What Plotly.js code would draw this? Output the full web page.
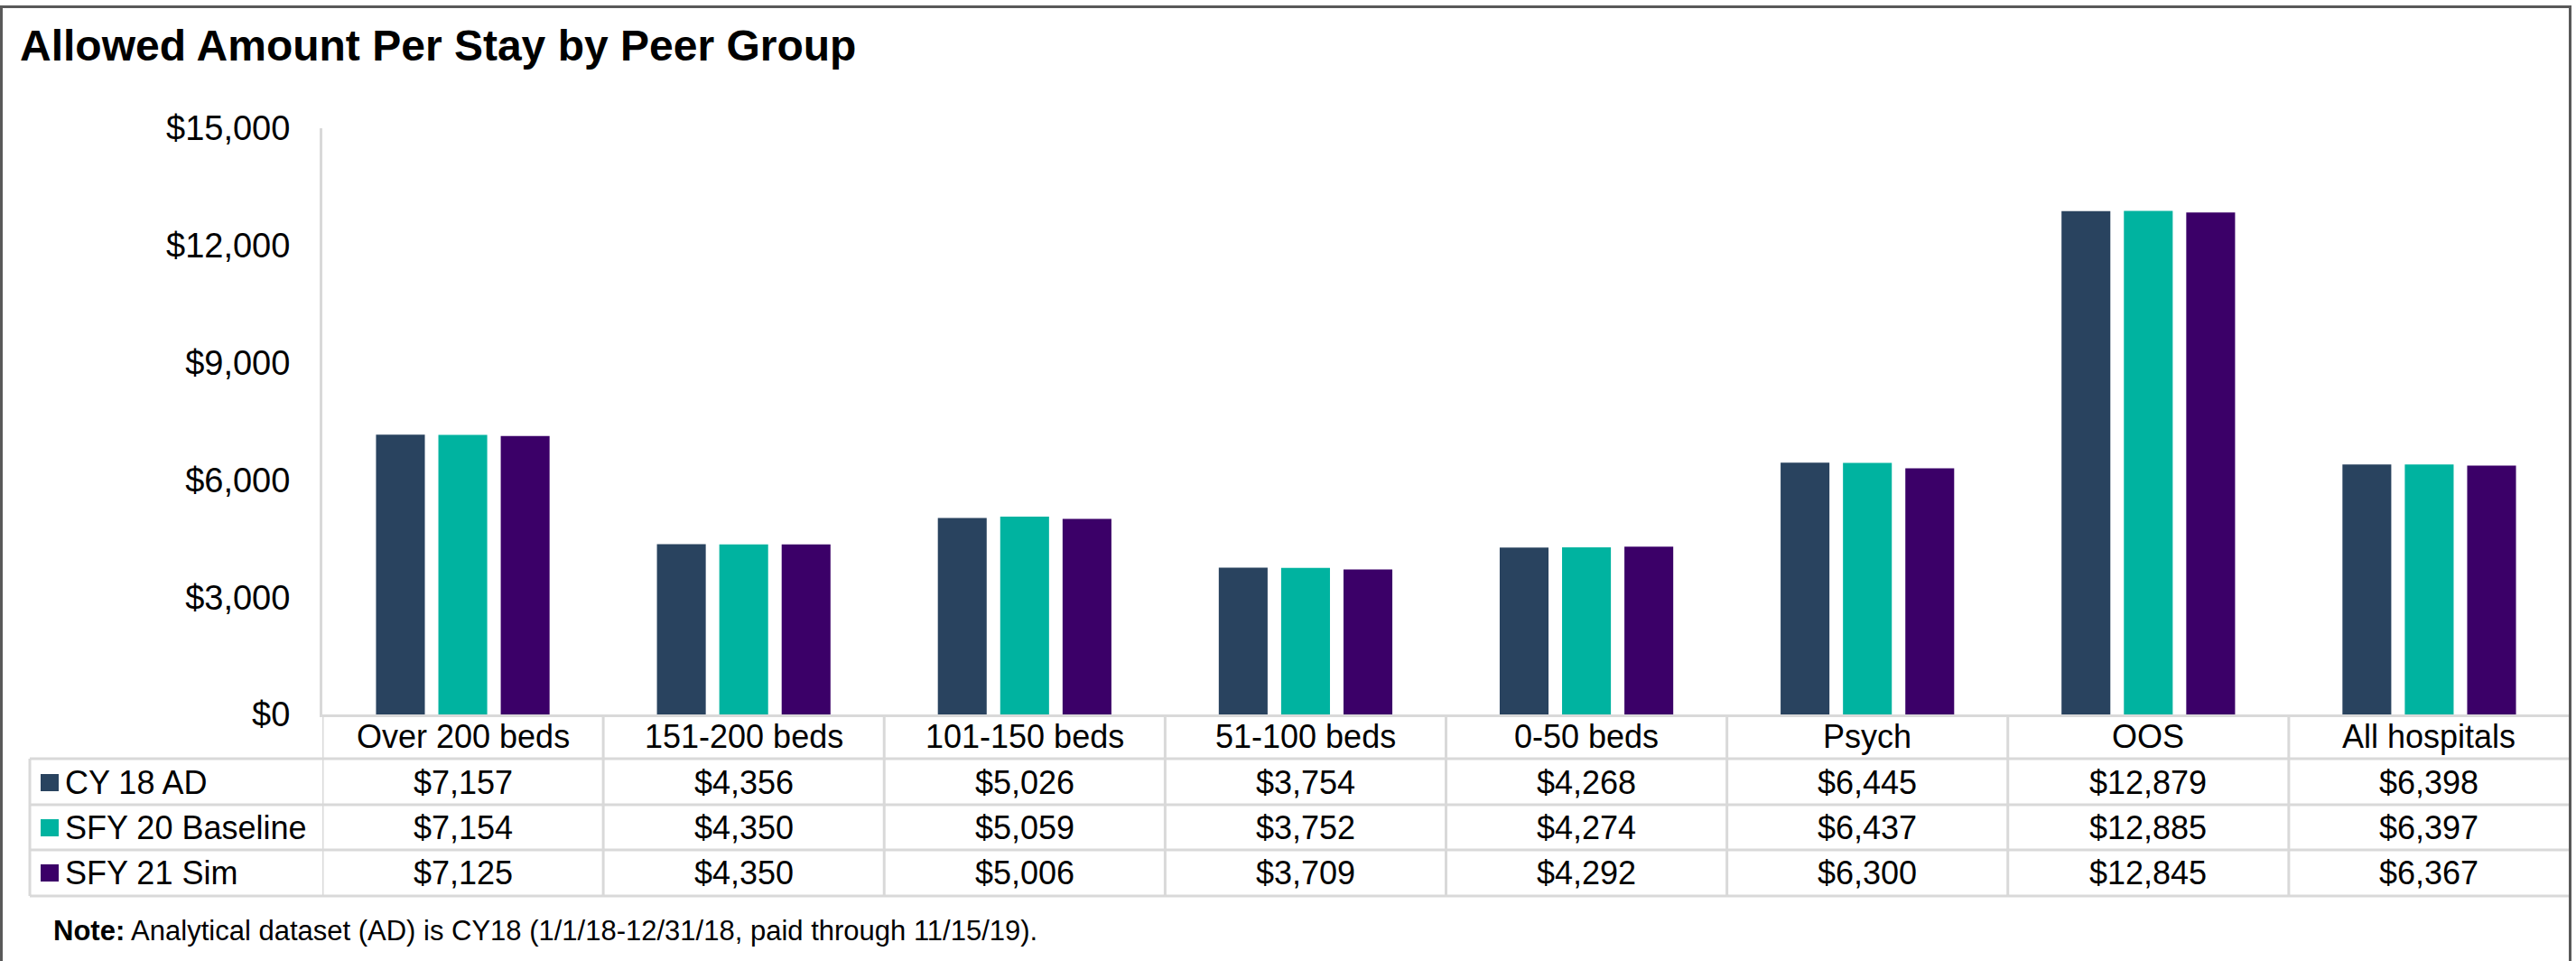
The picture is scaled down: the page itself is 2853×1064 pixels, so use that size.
<!DOCTYPE html>
<html>
<head>
<meta charset="utf-8">
<script src="https://cdn.plot.ly/plotly-3.0.1.min.js"></script>
<style>
  html, body { margin: 0; padding: 0; background: #ffffff; }
  #chart { width: 2853px; height: 1064px; }
</style>
</head>
<body>
<div id="chart"></div>
<script>
// ---- Data ----
const categories = ["Over 200 beds", "151-200 beds", "101-150 beds", "51-100 beds", "0-50 beds", "Psych", "OOS", "All hospitals"];
const seriesNames = ["CY 18 AD", "SFY 20 Baseline", "SFY 21 Sim"];
const cy18AD = [7157, 4356, 5026, 3754, 4268, 6445, 12879, 6398];
const sfy20Baseline = [7154, 4350, 5059, 3752, 4274, 6437, 12885, 6397];
const sfy21Sim = [7125, 4350, 5006, 3709, 4292, 6300, 12845, 6367];
const yTicks = [0, 3000, 6000, 9000, 12000, 15000];
const titleText = "Allowed Amount Per Stay by Peer Group";
const noteText = "<b>Note:</b> Analytical dataset (AD) is CY18 (1/1/18-12/31/18, paid through 11/15/19).";

// ---- Styles ----
const colors = ["#29435F", "#00B3A0", "#3B0068"];
const FONT = "Liberation Sans, Arial, sans-serif";
const W = 2853, H = 1064;
const L = 357, R = 2846, T = 142, B = 791;
const PW = R - L, PH = B - T;
const px = x => (x - L) / PW;
const py = y => (B - y) / PH;
const gridColor = "#D9D9D9";
const rowLines = [840, 891, 941, 992];
const rowCenters = [866, 916, 966];
const headerCenter = 815;
const TFS = 36;

const allSeries = [cy18AD, sfy20Baseline, sfy21Sim];
const traces = allSeries.map((vals, s) => ({
  type: "bar",
  x: categories,
  y: vals,
  name: seriesNames[s],
  marker: { color: colors[s], line: { width: 0 } },
  hoverinfo: "skip"
}));

const shapes = [];
const annotations = [];

// table horizontal lines
rowLines.forEach(y => {
  shapes.push({ type: "line", xref: "paper", yref: "paper", x0: px(33), x1: 1, y0: py(y), y1: py(y),
    line: { color: gridColor, width: 3 } });
});
// table left edge
shapes.push({ type: "line", xref: "paper", yref: "paper", x0: px(33), x1: px(33), y0: py(840), y1: py(992),
  line: { color: gridColor, width: 3 } });
// category column separators
for (let i = 0; i <= categories.length - 1; i++) {
  shapes.push({ type: "line", xref: "x", yref: "paper", x0: i - 0.5, x1: i - 0.5, y0: 0, y1: py(992),
    line: { color: gridColor, width: 3 } });
}
// header labels
categories.forEach((c, i) => {
  annotations.push({ xref: "x", yref: "paper", x: c, y: py(headerCenter), text: c, showarrow: false,
    xanchor: "center", yanchor: "middle", font: { family: FONT, size: TFS, color: "#000" } });
});
// value cells
allSeries.forEach((vals, s) => {
  vals.forEach((v, i) => {
    annotations.push({ xref: "x", yref: "paper", x: categories[i], y: py(rowCenters[s]),
      text: "$" + v.toLocaleString("en-US"), showarrow: false, xanchor: "center", yanchor: "middle",
      font: { family: FONT, size: TFS, color: "#000" } });
  });
  // row label
  annotations.push({ xref: "paper", yref: "paper", x: px(70), y: py(rowCenters[s]), text: seriesNames[s],
    showarrow: false, xanchor: "left", yanchor: "middle", font: { family: FONT, size: TFS, color: "#000" } });
  // swatch
  shapes.push({ type: "rect", xref: "paper", yref: "paper", x0: px(45), x1: px(65),
    y0: py(rowCenters[s] - 9), y1: py(rowCenters[s] + 10), fillcolor: colors[s], line: { width: 0 } });
});
// note
annotations.push({ xref: "paper", yref: "paper", x: px(57), y: py(1030), text: noteText, showarrow: false,
  xanchor: "left", yanchor: "middle", font: { family: FONT, size: 31, color: "#000" } });

// outer border (left, top, right)
const bc = "#595959";
shapes.push({ type: "line", xref: "paper", yref: "paper", x0: px(1.5), x1: px(1.5), y0: py(7), y1: py(1064), line: { color: bc, width: 3 } });
shapes.push({ type: "line", xref: "paper", yref: "paper", x0: px(0), x1: px(2847.5), y0: py(7.5), y1: py(7.5), line: { color: bc, width: 3 } });
shapes.push({ type: "line", xref: "paper", yref: "paper", x0: px(2846.5), x1: px(2846.5), y0: py(6), y1: py(1064), line: { color: bc, width: 3 } });

const layout = {
  width: W, height: H,
  margin: { l: L, r: W - R, t: T, b: H - B, pad: 0 },
  paper_bgcolor: "#ffffff", plot_bgcolor: "#ffffff",
  showlegend: false,
  barmode: "group", bargap: 0.334, bargroupgap: 0.217,
  title: { text: "<b>" + titleText + "</b>", xref: "container", yref: "container",
    x: 22 / W, xanchor: "left", y: 1 - 50 / H, yanchor: "middle",
    font: { family: FONT, size: 48, color: "#000" } },
  xaxis: { type: "category", showticklabels: false, ticks: "", showgrid: false, zeroline: false,
    showline: true, linecolor: gridColor, linewidth: 3, range: [-0.5, categories.length - 0.5], fixedrange: true },
  yaxis: { range: [0, 15000], tickvals: yTicks, ticktext: yTicks.map(v => "$" + v.toLocaleString("en-US")),
    showgrid: false, zeroline: false, ticks: "", showline: true, linecolor: gridColor, linewidth: 3,
    ticklabelstandoff: 25, tickfont: { family: FONT, size: 38, color: "#000" }, fixedrange: true },
  shapes: shapes,
  annotations: annotations
};

Plotly.newPlot("chart", traces, layout, { displayModeBar: false, staticPlot: true });
</script>
</body>
</html>
